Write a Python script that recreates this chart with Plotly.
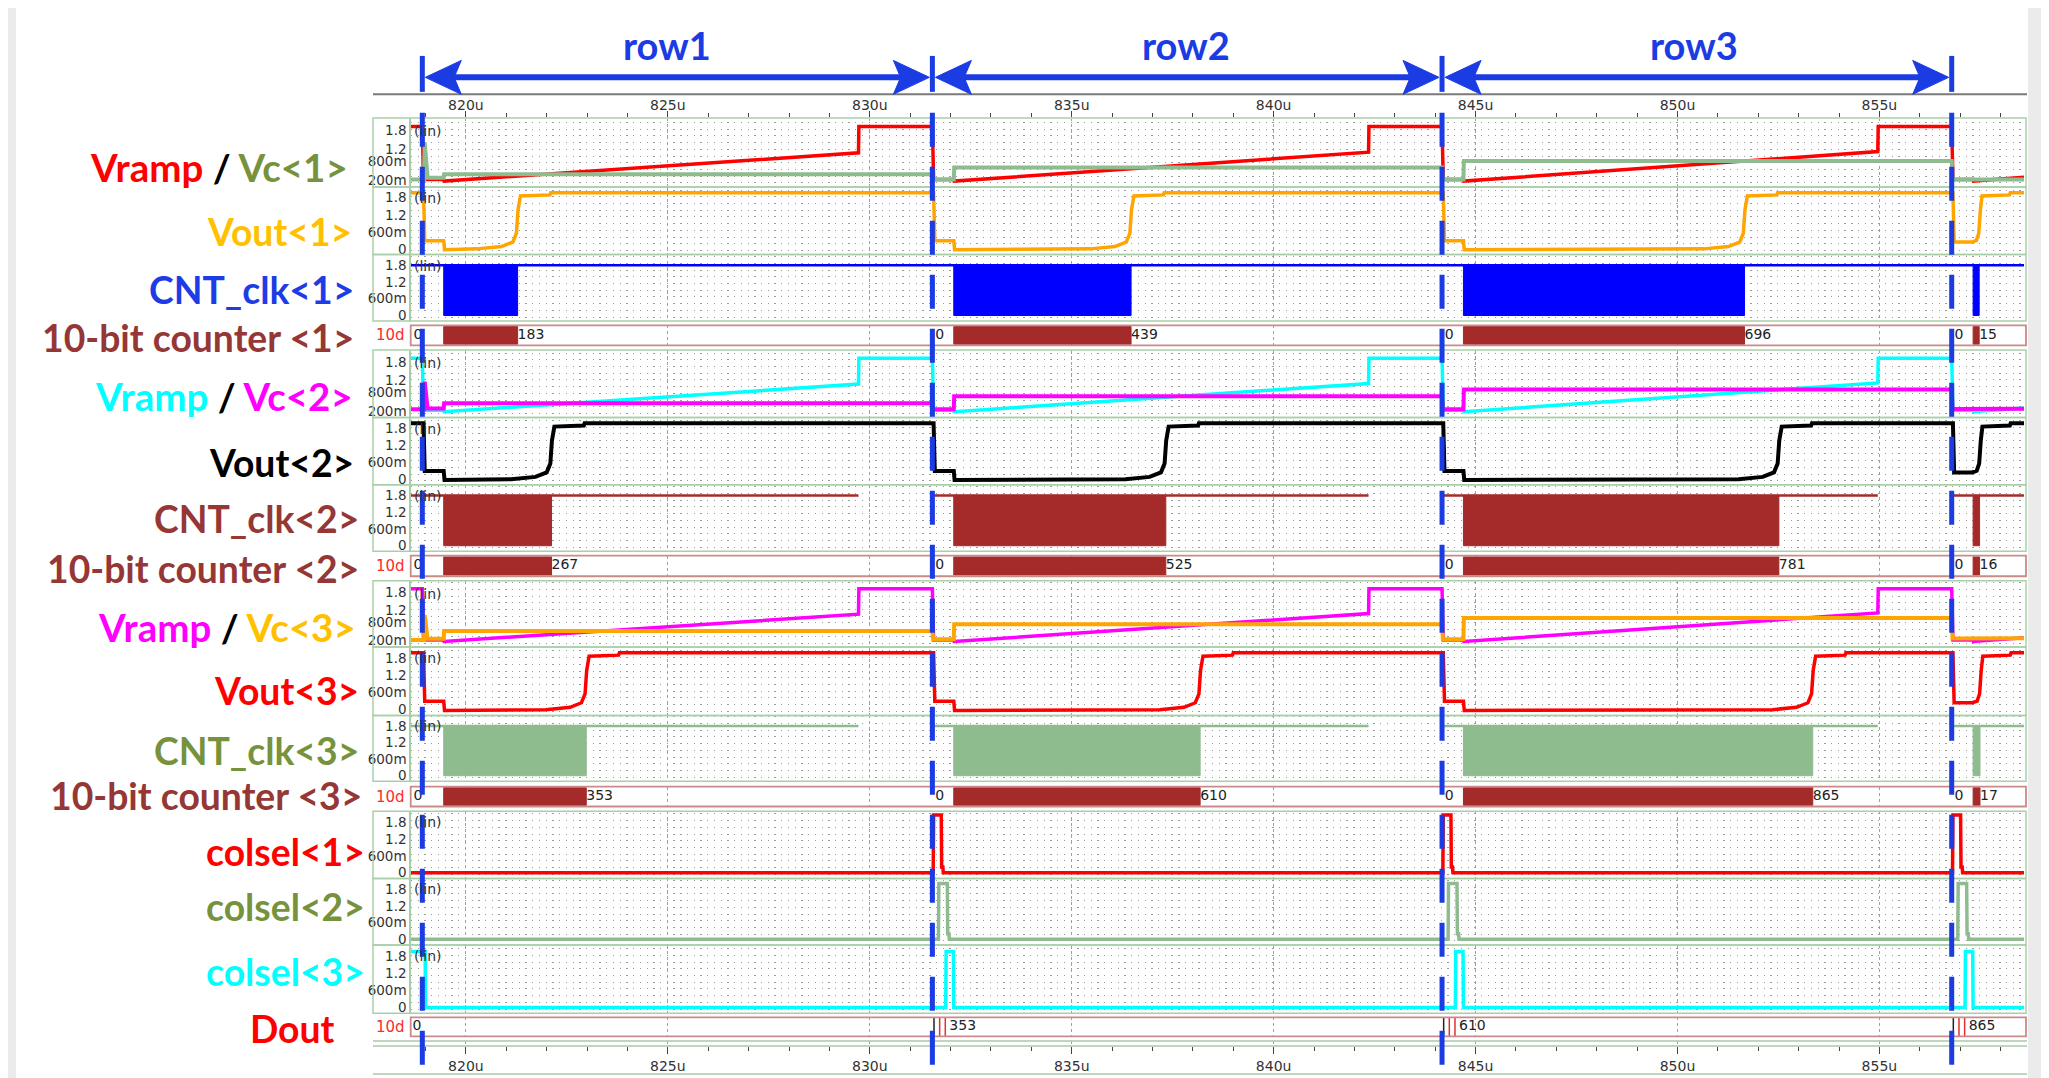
import plotly.graph_objects as go

W, H = 2049, 1078

# ---------------- data ----------------
x_tick_vals = [820, 825, 830, 835, 840, 845, 850, 855]
x_tick_text = ["820u", "825u", "830u", "835u", "840u", "845u", "850u", "855u"]
row_bounds = [818.92, 831.55, 844.17, 856.79]
row_names = ["row1", "row2", "row3"]
row_label_t = [824.97, 837.83, 850.40]

# ramp (same waveform shown in the three Vramp panels)
ramp_t = [818.64, 818.92, 818.95, 819.45, 819.46, 829.72, 829.73, 831.55, 831.58, 832.08, 832.09,
          842.35, 842.36, 844.17, 844.20, 844.70, 844.71, 854.96, 854.97, 856.79, 856.82, 857.32,
          857.33, 858.58]
ramp_v = [1.93, 1.93, 0.22, 0.22, 0.17, 1.08, 1.93, 1.93, 0.22, 0.22, 0.17,
          1.10, 1.93, 1.93, 0.22, 0.22, 0.17, 1.12, 1.93, 1.93, 0.22, 0.22,
          0.17, 0.29]

# column voltages
vc_t = [818.64, 818.96, 818.98, 819.05, 819.45, 819.46, 831.55, 831.57, 832.08, 832.09,
        844.17, 844.19, 844.70, 844.71, 856.79, 856.81, 858.58]
vc1_v = [0.22, 0.22, 1.42, 0.28, 0.28, 0.39, 0.39, 0.22, 0.22, 0.61,
         0.61, 0.22, 0.22, 0.82, 0.82, 0.22, 0.22]
vc2_v = [0.25, 0.25, 1.16, 0.28, 0.28, 0.45, 0.45, 0.25, 0.25, 0.68,
         0.68, 0.25, 0.25, 0.90, 0.90, 0.26, 0.27]
vc3_v = [0.22, 0.22, 1.05, 0.26, 0.26, 0.52, 0.52, 0.24, 0.24, 0.74,
         0.74, 0.24, 0.24, 0.95, 0.95, 0.27, 0.28]

# comparator outputs
vout1_t = [818.64, 818.95, 818.98, 819.45, 819.47,
           820.28, 820.88, 821.16, 821.25, 821.29, 821.35, 822.08, 822.10,
           831.58, 831.61, 832.08, 832.10,
           835.47, 836.07, 836.35, 836.44, 836.48, 836.54, 837.27, 837.29,
           844.20, 844.23, 844.70, 844.72,
           850.66, 851.26, 851.54, 851.63, 851.67, 851.73, 852.46, 852.48,
           856.82, 856.85, 857.30, 857.40, 857.46, 857.50, 857.54, 858.22, 858.24, 858.58]
vout1_v = [1.98, 1.98, 0.29, 0.29, -0.03,
           0.00, 0.08, 0.24, 0.55, 1.37, 1.86, 1.90, 1.98,
           1.98, 0.29, 0.29, -0.03,
           0.00, 0.08, 0.24, 0.55, 1.37, 1.86, 1.90, 1.98,
           1.98, 0.29, 0.29, -0.03,
           0.00, 0.08, 0.24, 0.55, 1.37, 1.86, 1.90, 1.98,
           1.98, 0.24, 0.24, 0.30, 0.55, 1.37, 1.86, 1.90, 1.98, 1.98]
vout2_t = [818.64, 818.95, 818.98, 819.45, 819.47,
           821.12, 821.72, 822.00, 822.09, 822.13, 822.19, 822.92, 822.94,
           831.58, 831.61, 832.08, 832.10,
           836.33, 836.93, 837.21, 837.30, 837.34, 837.40, 838.13, 838.15,
           844.20, 844.23, 844.70, 844.72,
           851.51, 852.11, 852.39, 852.48, 852.52, 852.58, 853.31, 853.33,
           856.82, 856.85, 857.30, 857.41, 857.47, 857.51, 857.55, 858.23, 858.25, 858.58]
vout2_v = [1.98, 1.98, 0.29, 0.29, -0.03,
           0.00, 0.08, 0.24, 0.55, 1.37, 1.86, 1.90, 1.98,
           1.98, 0.29, 0.29, -0.03,
           0.00, 0.08, 0.24, 0.55, 1.37, 1.86, 1.90, 1.98,
           1.98, 0.29, 0.29, -0.03,
           0.00, 0.08, 0.24, 0.55, 1.37, 1.86, 1.90, 1.98,
           1.98, 0.24, 0.24, 0.30, 0.55, 1.37, 1.86, 1.90, 1.98, 1.98]
vout3_t = [818.64, 818.95, 818.98, 819.45, 819.47,
           821.98, 822.58, 822.86, 822.95, 822.99, 823.05, 823.78, 823.80,
           831.58, 831.61, 832.08, 832.10,
           837.18, 837.78, 838.06, 838.15, 838.19, 838.25, 838.98, 839.00,
           844.20, 844.23, 844.70, 844.72,
           852.35, 852.95, 853.23, 853.32, 853.36, 853.42, 854.15, 854.17,
           856.82, 856.85, 857.30, 857.42, 857.48, 857.52, 857.56, 858.24, 858.26, 858.58]
vout3_v = [1.98, 1.98, 0.29, 0.29, -0.03,
           0.00, 0.08, 0.24, 0.55, 1.37, 1.86, 1.90, 1.98,
           1.98, 0.29, 0.29, -0.03,
           0.00, 0.08, 0.24, 0.55, 1.37, 1.86, 1.90, 1.98,
           1.98, 0.29, 0.29, -0.03,
           0.00, 0.08, 0.24, 0.55, 1.37, 1.86, 1.90, 1.98,
           1.98, 0.24, 0.24, 0.30, 0.55, 1.37, 1.86, 1.90, 1.98, 1.98]

# counter clock bursts (start / stop times) and idle level
clk_start = [819.45, 832.08, 844.70, 857.32]
clk1_end = [821.28, 836.47, 851.66, 857.47]
clk2_end = [822.12, 837.33, 852.51, 857.48]
clk3_end = [822.98, 838.18, 853.35, 857.49]
clk_idle_t = [818.64, 858.58]
clk_idle_v = [1.8, 1.8]
# columns 2 and 3: idle level absent while the ramp is parked high
clk_idle_gap_t = [818.64, 829.72, None, 831.55, 842.35, None, 844.17, 854.96, None, 856.79, 858.58]
clk_idle_gap_v = [1.8, 1.8, None, 1.8, 1.8, None, 1.8, 1.8, None, 1.8, 1.8]

# counter bus values
cnt_zero_t = [818.70, 831.62, 844.24, 856.86]
cnt1_vals = ["183", "439", "696", "15"]
cnt2_vals = ["267", "525", "781", "16"]
cnt3_vals = ["353", "610", "865", "17"]

# column select pulses
colsel1_t = [818.64, 831.57, 831.58, 831.77, 831.78, 831.81, 831.82, 844.19, 844.20, 844.39, 844.40,
             844.43, 844.44, 856.81, 856.82, 857.01, 857.02, 857.05, 857.06, 858.58]
colsel1_v = [0, 0, 2.05, 2.05, 0.2, 0.2, 0, 0, 2.05, 2.05, 0.2,
             0.2, 0, 0, 2.05, 2.05, 0.2, 0.2, 0, 0]
colsel2_t = [818.64, 831.70, 831.71, 831.92, 831.93, 831.96, 831.97, 844.32, 844.33, 844.54, 844.55,
             844.58, 844.59, 856.94, 856.95, 857.16, 857.17, 857.20, 857.21, 858.58]
colsel2_v = [0, 0, 2.0, 2.0, 0.2, 0.2, 0, 0, 2.0, 2.0, 0.2,
             0.2, 0, 0, 2.0, 2.0, 0.2, 0.2, 0, 0]
colsel3_t = [818.64, 818.99, 819.00, 831.88, 831.89, 832.07, 832.08, 844.50, 844.51, 844.69, 844.70,
             857.12, 857.13, 857.31, 857.32, 858.58]
colsel3_v = [1.95, 1.95, 0, 0, 1.95, 1.95, 0, 0, 1.95, 1.95, 0,
             0, 1.95, 1.95, 0, 0]

# Dout bus
dout_t = [818.68, 831.97, 844.59, 857.21]
dout_vals = ["0", "353", "610", "865"]
dout_edge_black = [831.59, 844.21, 856.83]
dout_edge_red = [831.73, 831.87, 844.35, 844.49, 856.97, 857.11]

# ---------------- styling ----------------
RED, BLACK, OLIVE, AMBER = "#ff0000", "#000000", "#76923c", "#ffc000"
LBLUE, BROWN, CYAN, MAG = "#1e3ce6", "#953735", "#00ffff", "#ff00ff"
BLUE = "#1b3be3"
SEA, ORANGE, BRICK = "#8fbc8f", "#ffa500", "#a52a2a"
GRN_BOX = "#a9cfa9"
BUS_LINE = "#c98a8a"

# the page places the figure 8px from the top-left corner; positions below are page pixels
OFF = 8.0


def px(v):
    return (v - OFF) / W


def py(v):
    return min(1.0, max(0.0, 1 - (v - OFF) / H))


XL, XR = 411.0, 2024.0
XRANGE = [818.64, 858.58]
xdom = [px(XL), px(XR)]
px_per_u = (XR - XL) / (XRANGE[1] - XRANGE[0])

# panel kind, top px, bottom px
panels = [
    ("ramp", 118.3, 187.3), ("sig", 187.3, 255.0), ("sig", 255.0, 321.7), ("bus", 326.0, 346.0),
    ("ramp", 350.7, 418.3), ("sig", 418.3, 485.7), ("sig", 485.7, 552.3), ("bus", 556.7, 577.3),
    ("ramp", 581.7, 648.3), ("sig", 648.3, 716.7), ("sig", 716.7, 782.7), ("bus", 788.0, 808.0),
    ("sig", 812.7, 880.0), ("sig", 880.0, 946.7), ("sig", 946.7, 1015.0), ("bus", 1019.3, 1038.3),
]

fig = go.Figure()


def sfx(i):
    return "" if i == 1 else str(i)


def add_line(t, v, i, color, width=3.5):
    s = sfx(i)
    fig.add_trace(go.Scatter(x=t, y=v, mode="lines", line=dict(color=color, width=width),
                             xaxis="x" + s, yaxis="y" + s, hoverinfo="skip", connectgaps=False))


def add_blocks(starts, ends, lo, hi, i, color):
    xs, ys = [], []
    for a, b in zip(starts, ends):
        xs += [a, a, b, b, a, None]
        ys += [lo, hi, hi, lo, lo, None]
    s = sfx(i)
    fig.add_trace(go.Scatter(x=xs, y=ys, mode="lines", fill="toself", fillcolor=color,
                             line=dict(color=color, width=1), xaxis="x" + s, yaxis="y" + s,
                             hoverinfo="skip"))


def add_texts(xs, labels, i):
    s = sfx(i)
    fig.add_trace(go.Scatter(x=xs, y=[0.5] * len(xs), mode="text", text=labels,
                             textposition="middle right",
                             textfont=dict(family="DejaVu Sans", size=14, color="#222"),
                             xaxis="x" + s, yaxis="y" + s, hoverinfo="skip"))


def add_edges(xs, i, color):
    ex, ey = [], []
    for a in xs:
        ex += [a, a, None]
        ey += [0, 1, None]
    s = sfx(i)
    fig.add_trace(go.Scatter(x=ex, y=ey, mode="lines", line=dict(color=color, width=1.5),
                             xaxis="x" + s, yaxis="y" + s, hoverinfo="skip"))


# row 1 group
add_line(ramp_t, ramp_v, 1, RED)
add_line(vc_t, vc1_v, 1, SEA, 4)
add_line(vout1_t, vout1_v, 2, ORANGE)
add_line(clk_idle_t, clk_idle_v, 3, "#0000ff", 2.5)
add_blocks(clk_start, clk1_end, 0, 1.8, 3, "#0000ff")
add_blocks(clk_start, clk1_end, 0.06, 0.94, 4, BRICK)
add_texts(cnt_zero_t + clk1_end, ["0"] * 4 + cnt1_vals, 4)
# row 2 group
add_line(ramp_t, ramp_v, 5, CYAN)
add_line(vc_t, vc2_v, 5, MAG, 4)
add_line(vout2_t, vout2_v, 6, BLACK, 4)
add_line(clk_idle_gap_t, clk_idle_gap_v, 7, BRICK, 2.5)
add_blocks(clk_start, clk2_end, 0, 1.8, 7, BRICK)
add_blocks(clk_start, clk2_end, 0.06, 0.94, 8, BRICK)
add_texts(cnt_zero_t + clk2_end, ["0"] * 4 + cnt2_vals, 8)
# row 3 group
add_line(ramp_t, ramp_v, 9, MAG)
add_line(vc_t, vc3_v, 9, ORANGE, 4)
add_line(vout3_t, vout3_v, 10, RED)
add_line(clk_idle_gap_t, clk_idle_gap_v, 11, SEA, 2.5)
add_blocks(clk_start, clk3_end, 0, 1.8, 11, SEA)
add_blocks(clk_start, clk3_end, 0.06, 0.94, 12, BRICK)
add_texts(cnt_zero_t + clk3_end, ["0"] * 4 + cnt3_vals, 12)
# column selects and Dout
add_line(colsel1_t, colsel1_v, 13, RED)
add_line(colsel2_t, colsel2_v, 14, SEA)
add_line(colsel3_t, colsel3_v, 15, CYAN)
add_edges(dout_edge_black, 16, "#222")
add_edges(dout_edge_red, 16, "#e03030")
add_texts(dout_t, dout_vals, 16)
# empty traces for the header / bottom time axes
for k in (17, 18, 19):
    fig.add_trace(go.Scatter(x=[], y=[], xaxis=f"x{k}", yaxis=f"y{k}"))

layout = dict(width=W, height=H, margin=dict(l=0, r=0, t=0, b=0),
              paper_bgcolor="#ebebeb", plot_bgcolor="white", showlegend=False,
              font=dict(family="DejaVu Sans", color="#333"))

tickfont = dict(family="DejaVu Sans", size=13.5, color="#333")
for i, (kind, top, bot) in enumerate(panels, start=1):
    s = sfx(i)
    xa = dict(domain=xdom, range=XRANGE, anchor="y" + s, showticklabels=False, ticks="",
              tickmode="array", tickvals=x_tick_vals, showgrid=True, gridcolor="#a0a0a0",
              griddash="3px,3px", gridwidth=1, zeroline=False, showline=False, fixedrange=True)
    if i > 1:
        xa["matches"] = "x"
    ydom = [py(bot), py(top)]
    if kind == "bus":
        ya = dict(domain=ydom, range=[0, 1], anchor="x" + s, showticklabels=False, ticks="",
                  showgrid=False, zeroline=False, showline=False, fixedrange=True)
    else:
        if kind == "ramp":
            rng = [-0.02, 2.2]
            tv, tt = [0.2, 0.8, 1.2, 1.8], ["200m", "800m", "1.2", "1.8"]
        else:
            rng = [-0.2, 2.18]
            tv, tt = [0, 0.6, 1.2, 1.8], ["0", "600m", "1.2", "1.8"]
        dy = 6.73 * (rng[1] - rng[0]) / (bot - top)
        ya = dict(domain=ydom, range=rng, anchor="x" + s, tickmode="array", tickvals=tv,
                  ticktext=tt, ticks="", showgrid=False, zeroline=False, showline=True,
                  linecolor=GRN_BOX, linewidth=1.5, tickfont=tickfont, fixedrange=True,
                  minor=dict(tickmode="linear", tick0=rng[0] + dy * 0.6, dtick=dy, showgrid=True,
                             gridcolor="#9a9a9a", gridwidth=1.3, griddash="1.3px,5.43px",
                             ticks=""))
    layout["xaxis" + s] = xa
    layout["yaxis" + s] = ya

axis_font = dict(family="DejaVu Sans", size=14, color="#333")
minor_ticks = dict(tickmode="linear", tick0=820, dtick=1, ticks="outside",
                   ticklen=4, tickcolor="#444", tickwidth=1.2, showgrid=False)
# header: tick marks only
layout["xaxis17"] = dict(domain=xdom, range=XRANGE, matches="x", anchor="y17", side="top",
                         tickmode="array", tickvals=x_tick_vals, showticklabels=False,
                         ticks="outside", ticklen=6, tickcolor="#444", tickwidth=1.3,
                         minor=minor_ticks, showgrid=False, zeroline=False, showline=False)
layout["yaxis17"] = dict(domain=[py(118.6), py(118.3)], range=[0, 1], anchor="x17", visible=False)
# header: tick labels only
layout["xaxis19"] = dict(domain=xdom, range=XRANGE, matches="x", anchor="y19", side="top",
                         tickmode="array", tickvals=x_tick_vals, ticktext=x_tick_text,
                         ticks="", showgrid=False, zeroline=False, showline=False,
                         tickfont=axis_font)
layout["yaxis19"] = dict(domain=[py(114.6), py(114.3)], range=[0, 1], anchor="x19", visible=False)
# bottom axis
layout["xaxis18"] = dict(domain=xdom, range=XRANGE, matches="x", anchor="y18", side="bottom",
                         tickmode="array", tickvals=x_tick_vals, ticktext=x_tick_text,
                         ticks="outside", ticklen=7, tickcolor="#444", tickwidth=1.3,
                         minor=minor_ticks,
                         showgrid=True, gridcolor="#a0a0a0", griddash="3px,3px",
                         zeroline=False, showline=False, tickfont=axis_font)
layout["yaxis18"] = dict(domain=[py(1048), py(1043)], range=[0, 1], anchor="x18", visible=False)

shapes = []
# white card
shapes.append(dict(type="rect", xref="paper", yref="paper", x0=px(16), x1=px(2028), y0=0, y1=1,
                   fillcolor="white", line=dict(width=0), layer="below"))
# panel boxes
for i, (kind, top, bot) in enumerate(panels, start=1):
    if kind == "bus":
        shapes.append(dict(type="rect", xref="paper", yref="paper", x0=px(410.7), x1=px(2026),
                           y0=py(bot), y1=py(top), line=dict(color=BUS_LINE, width=1.8),
                           layer="above"))
    else:
        shapes.append(dict(type="rect", xref="paper", yref="paper", x0=px(373), x1=px(2026),
                           y0=py(bot), y1=py(top), line=dict(color=GRN_BOX, width=1.5),
                           layer="above"))
# header separator and bottom axis lines
shapes.append(dict(type="line", xref="paper", yref="paper", x0=px(373), x1=px(2027),
                   y0=py(94.5), y1=py(94.5), line=dict(color="#7a7a7a", width=2)))
for yy in (1043, 1048, 1076):
    shapes.append(dict(type="line", xref="paper", yref="paper", x0=px(373), x1=px(2027),
                       y0=py(yy), y1=py(yy), line=dict(color="#a8c8a8", width=1.5)))
# row arrows in the header
ya_px, hh = 77.5, 17
hl = 36 / px_per_u
gap = 3 / px_per_u
for k in range(len(row_names)):
    a, b = row_bounds[k], row_bounds[k + 1]
    shapes.append(dict(type="line", xref="x", yref="paper", x0=a + gap + hl * 0.7,
                       x1=b - gap - hl * 0.7, y0=py(ya_px), y1=py(ya_px),
                       line=dict(color=BLUE, width=6)))
    la = a + gap
    shapes.append(dict(type="path", xref="x", yref="paper",
                       path=f"M {la},{py(ya_px)} L {la + hl},{py(ya_px - hh)} "
                            f"L {la + 0.8 * hl},{py(ya_px)} L {la + hl},{py(ya_px + hh)} Z",
                       fillcolor=BLUE, line=dict(color=BLUE, width=1)))
    rb = b - gap
    shapes.append(dict(type="path", xref="x", yref="paper",
                       path=f"M {rb},{py(ya_px)} L {rb - hl},{py(ya_px - hh)} "
                            f"L {rb - 0.8 * hl},{py(ya_px)} L {rb - hl},{py(ya_px + hh)} Z",
                       fillcolor=BLUE, line=dict(color=BLUE, width=1)))
for tb in row_bounds:
    shapes.append(dict(type="line", xref="x", yref="paper", x0=tb, x1=tb, y0=py(92), y1=py(56),
                       line=dict(color=BLUE, width=5)))
    shapes.append(dict(type="line", xref="x", yref="paper", x0=tb, x1=tb, y0=py(113), y1=0,
                       line=dict(color=BLUE, width=5, dash="34px,20px"), layer="above"))
layout["shapes"] = shapes

# annotations
ann = []


def esc(t):
    return t.replace("<", "&lt;").replace(">", "&gt;")


left_labels = [
    ([("Vramp", RED), (" / ", BLACK), ("Vc<1>", OLIVE)], 350, 167, 38.5),
    ([("Vout<1>", AMBER)], 354, 232, 37.3),
    ([("CNT_clk<1>", LBLUE)], 356, 290, 37.3),
    ([("10-bit counter <1>", BROWN)], 356, 338, 37.3),
    ([("Vramp", CYAN), (" / ", BLACK), ("Vc<2>", MAG)], 355, 397, 38.5),
    ([("Vout<2>", BLACK)], 356, 463, 37.3),
    ([("CNT_clk<2>", BROWN)], 361, 519, 37.3),
    ([("10-bit counter <2>", BROWN)], 361, 570, 37.3),
    ([("Vramp", MAG), (" / ", BLACK), ("Vc<3>", AMBER)], 358, 628, 38.5),
    ([("Vout<3>", RED)], 361, 692, 37.3),
    ([("CNT_clk<3>", OLIVE)], 361, 752, 37.3),
    ([("10-bit counter <3>", BROWN)], 364, 797, 37.3),
    ([("colsel<1>", RED)], 367, 853, 37.3),
    ([("colsel<2>", OLIVE)], 367, 908, 37.3),
    ([("colsel<3>", CYAN)], 367, 973, 37.3),
    ([("Dout", RED)], 337, 1030, 37.3),
]
for parts, xr, yc, fs in left_labels:
    txt = "".join(f'<span style="color:{c}">{esc(p)}</span>' for p, c in parts)
    ann.append(dict(xref="paper", yref="paper", x=px(xr), y=py(yc), xanchor="right",
                    yanchor="middle", text="<b>" + txt + "</b>", showarrow=False,
                    font=dict(family="Lato", size=fs)))
for k, name in enumerate(row_names):
    ann.append(dict(xref="x", yref="paper", x=row_label_t[k],
                    y=py(45), text="<b>" + name + "</b>", showarrow=False, xanchor="center",
                    yanchor="middle", font=dict(family="Lato", size=38, color=BLUE)))
for i, (kind, top, bot) in enumerate(panels, start=1):
    if kind == "bus":
        ann.append(dict(xref="paper", yref="paper", x=px(407), y=py((top + bot) / 2),
                        xanchor="right", yanchor="middle", text="10d", showarrow=False,
                        font=dict(family="DejaVu Sans", size=15, color="#ff2a2a")))
    else:
        off = 13 if kind == "ramp" else 11
        ann.append(dict(xref="paper", yref="paper", x=px(412), y=py(top + off),
                        xanchor="left", yanchor="middle", text="(lin)", showarrow=False,
                        font=dict(family="DejaVu Sans", size=14, color="#333")))
layout["annotations"] = ann

fig.update_layout(**layout)
fig.write_html("out.html")
